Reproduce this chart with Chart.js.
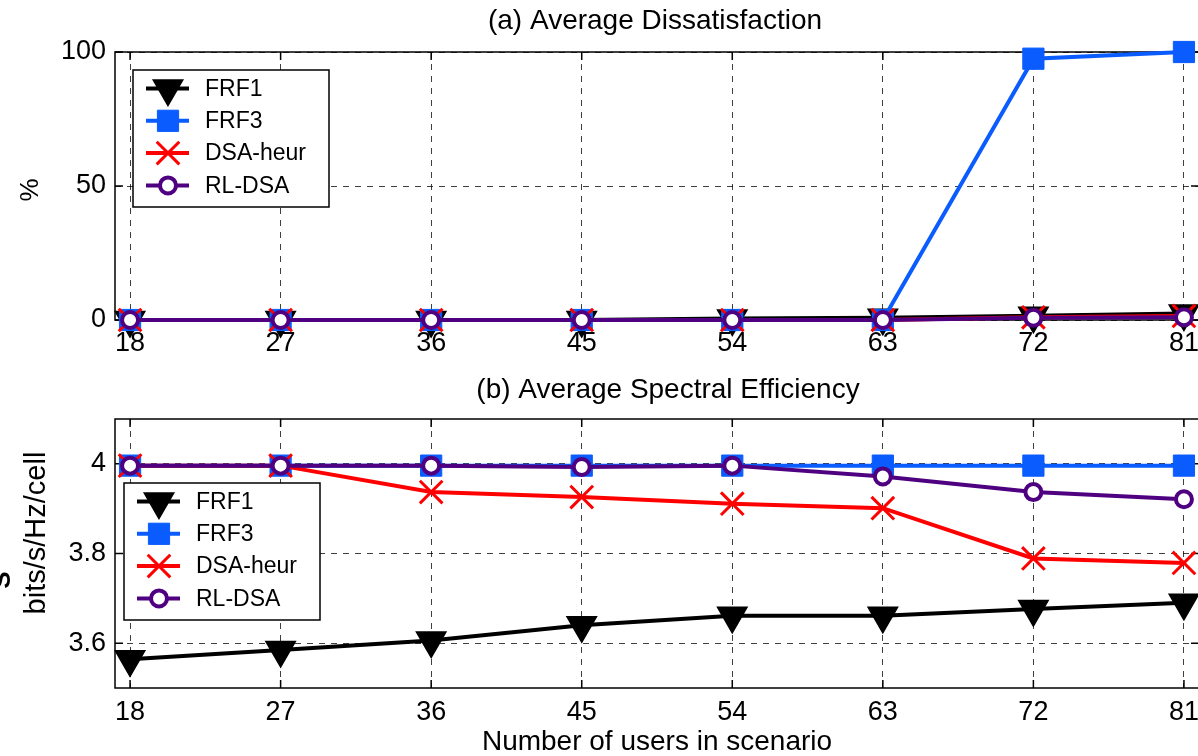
<!DOCTYPE html>
<html>
<head>
<meta charset="utf-8">
<script src="https://cdn.jsdelivr.net/npm/chart.js@4.4.0/dist/chart.umd.min.js"></script>
<style>
html, body { margin: 0; padding: 0; background: #fff; overflow: hidden; width: 1198px; height: 756px; }
canvas { position: absolute; left: 0; }
#dissat { top: 0; }
#spectral { top: 370px; }
</style>
</head>
<body>
<canvas id="dissat" width="1240" height="378"></canvas>
<canvas id="spectral" width="1240" height="386"></canvas>
<script>
// users in each scenario (x axis)
const users = [18, 27, 36, 45, 54, 63, 72, 81];
const seriesNames = ['FRF1', 'FRF3', 'DSA-heur', 'RL-DSA'];

// (a) average dissatisfaction, %
const dissatFRF1 = [0, 0, 0, 0, 0.6, 0.8, 1.6, 2.4];
const dissatFRF3 = [0, 0, 0, 0, 0, 0, 97.5, 100];
const dissatDSA = [0, 0, 0, 0, 0, 0, 1.0, 1.5];
const dissatRL = [0, 0, 0, 0, 0, 0, 0.8, 1.0];

// (b) average spectral efficiency, bits/s/Hz/cell
const seFRF1 = [3.564, 3.585, 3.606, 3.640, 3.661, 3.661, 3.676, 3.690];
const seFRF3 = [3.996, 3.996, 3.996, 3.996, 3.996, 3.996, 3.996, 3.996];
const seDSA = [3.996, 3.996, 3.937, 3.926, 3.911, 3.901, 3.789, 3.779];
const seRL = [3.996, 3.996, 3.996, 3.993, 3.996, 3.972, 3.937, 3.921];

const dissatTicks = [0, 50, 100];
const seTicks = [3.6, 3.8, 4];

const FONT = '"Liberation Sans", Arial, sans-serif';
Chart.defaults.font.family = FONT;
Chart.defaults.color = '#000';

// marker / line look of each series
const styles = [
    { color: '#000000', fill: '#000000', pointStyle: 'triangle', rotation: 180, radius: 17, pbw: 1.5 },
    { color: '#0a5cff', fill: '#0a5cff', pointStyle: 'rect', rotation: 0, radius: 15, pbw: 1 },
    { color: '#ff0000', fill: '#ff0000', pointStyle: 'crossRot', rotation: 0, radius: 16, pbw: 3 },
    { color: '#4f0080', fill: '#ffffff', pointStyle: 'circle', rotation: 0, radius: 8, pbw: 4 }
];

function makeDatasets(series) {
    return series.map(function(vals, i) {
        const s = styles[i];
        return {
            label: seriesNames[i],
            data: users.map((u, j) => ({ x: u, y: vals[j] })),
            borderColor: s.color,
            backgroundColor: s.fill,
            borderWidth: 4,
            pointStyle: s.pointStyle,
            pointRotation: s.rotation,
            pointRadius: s.radius,
            pointHoverRadius: s.radius,
            pointBorderWidth: s.pbw,
            pointBackgroundColor: s.fill,
            pointBorderColor: s.color,
            tension: 0,
            clip: false,
            order: 4 - i   // RL-DSA on top, like the original
        };
    });
}

// axes box + inward tick marks (matlab style)
const framePlugin = {
    id: 'frame',
    beforeDatasetsDraw(chart) {
        const { ctx, chartArea: a, scales } = chart;
        ctx.save();
        ctx.strokeStyle = '#000';
        ctx.lineWidth = 1.5;
        ctx.strokeRect(a.left, a.top, a.right - a.left, a.bottom - a.top);
        ctx.beginPath();
        scales.x.ticks.forEach(t => {
            const px = scales.x.getPixelForValue(t.value);
            ctx.moveTo(px, a.bottom); ctx.lineTo(px, a.bottom - 8);
            ctx.moveTo(px, a.top); ctx.lineTo(px, a.top + 8);
        });
        scales.y.ticks.forEach(t => {
            const py = scales.y.getPixelForValue(t.value);
            ctx.moveTo(a.left, py); ctx.lineTo(a.left + 8, py);
            ctx.moveTo(a.right, py); ctx.lineTo(a.right - 8, py);
        });
        ctx.stroke();
        ctx.restore();
    }
};

// legend box inside the plot
const legendBoxPlugin = {
    id: 'legendBox',
    afterDatasetsDraw(chart, args, opts) {
        const { ctx, chartArea: a } = chart;
        const bx = a.left + opts.x, by = a.top + opts.y;
        ctx.save();
        ctx.fillStyle = '#fff';
        ctx.fillRect(bx, by, 196, 137);
        ctx.strokeStyle = '#000';
        ctx.lineWidth = 1.5;
        ctx.strokeRect(bx, by, 196, 137);
        ctx.font = '23px ' + FONT;
        ctx.textBaseline = 'middle';
        seriesNames.forEach(function(name, i) {
            const s = styles[i];
            const ry = by + 18.5 + i * 32.3;
            ctx.strokeStyle = s.color;
            ctx.lineWidth = 4;
            ctx.beginPath();
            ctx.moveTo(bx + 13, ry);
            ctx.lineTo(bx + 56, ry);
            ctx.stroke();
            ctx.fillStyle = s.fill;
            ctx.lineWidth = s.pbw;
            Chart.helpers.drawPoint(ctx, {
                pointStyle: s.pointStyle, rotation: s.rotation, radius: s.radius, borderWidth: s.pbw
            }, bx + 35, ry);
            ctx.fillStyle = '#000';
            ctx.fillText(name, bx + 72, ry + 1);
        });
        ctx.restore();
    }
};

// titles and rotated axis labels
const textPlugin = {
    id: 'texts',
    afterDraw(chart, args, opts) {
        const ctx = chart.ctx;
        (opts.items || []).forEach(function(it) {
            ctx.save();
            ctx.translate(it.x, it.y);
            if (it.rotate) ctx.rotate(-Math.PI / 2);
            ctx.font = it.font;
            ctx.fillStyle = '#000';
            ctx.textAlign = 'center';
            ctx.textBaseline = it.baseline || 'alphabetic';
            ctx.fillText(it.text, 0, 0);
            ctx.restore();
        });
    }
};

function xScale(height, pad, title) {
    return {
        type: 'linear',
        min: 17.1,
        max: 81.9,
        afterBuildTicks: s => { s.ticks = users.map(v => ({ value: v })); },
        afterFit: s => { s.height = height; },
        ticks: { padding: pad, font: { size: 27 }, autoSkip: false, maxRotation: 0, color: '#000' },
        grid: { color: 'rgba(0,0,0,0.75)', lineWidth: 1, drawTicks: false },
        border: { display: false, dash: [6, 6] },
        title: title ? {
            display: true, text: title, font: { size: 28, lineHeight: 1.0 },
            padding: { top: 0, bottom: 0 }, color: '#000'
        } : { display: false }
    };
}

function yScale(min, max, tickVals) {
    return {
        min: min,
        max: max,
        afterBuildTicks: s => { s.ticks = tickVals.map(v => ({ value: v })); },
        afterFit: s => { s.width = 115; },
        ticks: { padding: 9, font: { size: 27 }, color: '#000', callback: v => String(v) },
        grid: { color: 'rgba(0,0,0,0.75)', lineWidth: 1, drawTicks: false },
        border: { display: false, dash: [6, 6] }
    };
}

new Chart(document.getElementById('dissat').getContext('2d'), {
    type: 'line',
    data: { datasets: makeDatasets([dissatFRF1, dissatFRF3, dissatDSA, dissatRL]) },
    options: {
        responsive: false,
        animation: false,
        events: [],
        layout: { padding: { left: 0, right: 41, top: 52, bottom: 0 } },
        plugins: {
            legend: { display: false },
            tooltip: { enabled: false },
            title: { display: false },
            legendBox: { x: 18, y: 18 },
            texts: {
                items: [
                    { text: '(a) Average Dissatisfaction', x: 655, y: 21, font: '28px ' + FONT, baseline: 'middle' },
                    { text: '%', x: 38, y: 190, font: '26px ' + FONT, rotate: true }
                ]
            }
        },
        scales: {
            x: xScale(58, 7, null),
            y: yScale(0, 100, dissatTicks)
        }
    },
    plugins: [framePlugin, legendBoxPlugin, textPlugin]
});

new Chart(document.getElementById('spectral').getContext('2d'), {
    type: 'line',
    data: { datasets: makeDatasets([seFRF1, seFRF3, seDSA, seRL]) },
    options: {
        responsive: false,
        animation: false,
        events: [],
        layout: { padding: { left: 0, right: 41, top: 49, bottom: 0 } },
        plugins: {
            legend: { display: false },
            tooltip: { enabled: false },
            title: { display: false },
            legendBox: { x: 9, y: 64 },
            texts: {
                items: [
                    { text: '(b) Average Spectral Efficiency', x: 668, y: 20, font: '28px ' + FONT, baseline: 'middle' },
                    { text: 'bits/s/Hz/cell', x: 45, y: 163, font: '29px ' + FONT, rotate: true },
                    { text: 'S', x: 10, y: 210, font: 'bold 26px ' + FONT, rotate: true }
                ]
            }
        },
        scales: {
            x: xScale(68, 8, 'Number of users in scenario'),
            y: yScale(3.5, 4.1, seTicks)
        }
    },
    plugins: [framePlugin, legendBoxPlugin, textPlugin]
});
</script>
</body>
</html>
